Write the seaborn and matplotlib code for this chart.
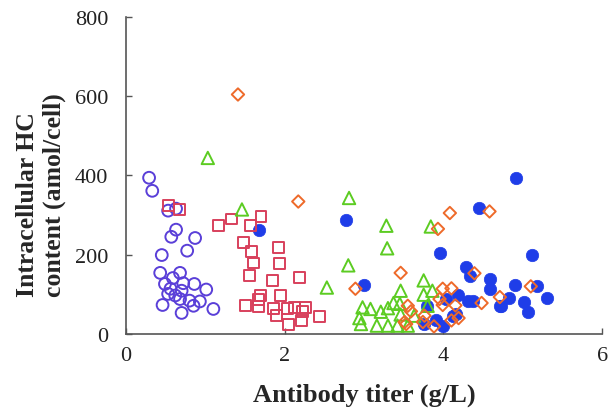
import matplotlib
matplotlib.use("Agg")
import matplotlib.pyplot as plt
import seaborn as sns
import pandas as pd

# ---- data ----
purple_x = [0.29, 0.33, 0.53, 0.63, 0.63, 0.57, 0.87, 0.77, 0.45, 0.43, 0.59, 0.68, 0.72, 0.86,
            1.01, 0.56, 0.53, 0.70, 0.68, 0.80, 0.93, 0.85, 0.46, 0.70, 1.10, 0.62, 0.49]
purple_y = [394, 361, 311, 316, 263, 245, 242, 210, 199, 154, 141, 154, 128, 126,
            112, 114, 101, 109, 88, 84, 82, 71, 73, 53, 63, 97, 126]

red_x = [0.53, 0.67, 1.16, 1.33, 1.57, 1.70, 1.48, 1.58, 1.61, 1.55, 1.92, 1.93, 1.84, 2.19,
         1.95, 1.69, 1.67, 1.51, 1.67, 1.86, 1.90, 2.03, 2.12, 2.26, 2.22, 2.05, 2.21, 2.44]
red_y = [324, 315, 273, 290, 273, 297, 231, 208, 179, 147, 217, 177, 134, 143,
         97, 97, 88, 71, 69, 63, 46, 63, 67, 67, 56, 24, 34, 44]

green_x = [1.03, 1.46, 2.81, 2.80, 2.53, 3.28, 3.29, 3.84, 3.46, 3.75, 3.86, 3.75, 2.98, 3.08,
           3.21, 3.30, 3.37, 3.45, 3.46, 2.94, 2.96, 3.16, 3.30, 3.42, 3.55, 3.63, 3.80]
green_y = [444, 314, 343, 173, 117, 273, 216, 271, 109, 135, 109, 99, 67, 63,
           56, 65, 78, 76, 49, 40, 25, 21, 21, 21, 21, 46, 71]

orange_x = [1.41, 2.17, 2.89, 3.46, 3.93, 4.08, 3.55, 3.59, 3.51, 3.74, 3.76, 3.88, 3.99, 3.95,
            3.99, 4.58, 4.39, 4.10, 4.15, 4.48, 4.71, 4.10, 4.19, 5.10, 3.53]
orange_y = [604, 334, 114, 154, 265, 305, 71, 57, 30, 30, 46, 19, 114, 88,
            73, 309, 153, 115, 72, 78, 93, 34, 40, 120, 25]

blue_x = [1.68, 2.77, 3.00, 3.95, 3.79, 4.03, 3.76, 3.91, 3.99, 4.45, 4.28, 4.33, 4.58, 4.58,
          4.18, 4.31, 4.37, 4.71, 4.12, 4.16, 4.91, 5.11, 4.90, 5.18, 4.82, 4.73, 5.02, 5.07, 5.31]
blue_y = [262, 288, 124, 204, 71, 88, 25, 36, 19, 318, 168, 147, 139, 114,
          98, 84, 84, 71, 44, 50, 394, 199, 124, 120, 90, 71, 80, 56, 90]

x_ticks = [0, 2, 4, 6]
y_ticks = [0, 200, 400, 600, 800]

sns.set_theme(style="ticks")
plt.rcParams['font.family'] = ['Liberation Serif', 'DejaVu Serif']

fig = plt.figure(figsize=(6.12, 4.14), dpi=100)
ax = fig.add_axes([0.206, 0.191, 0.778, 0.766])

lw = 1.4
sns.scatterplot(x=blue_x, y=blue_y, marker='o', s=80, color='#1f3de8',
                edgecolor='#1f3de8', linewidth=0.5, ax=ax, zorder=2)
sns.scatterplot(x=purple_x, y=purple_y, marker='o', s=72, facecolors='none',
                edgecolor='#5a3fd8', linewidth=lw, ax=ax, zorder=3)
sns.scatterplot(x=red_x, y=red_y, marker='s', s=62, facecolors='none',
                edgecolor='#d8405c', linewidth=lw, ax=ax, zorder=3)
sns.scatterplot(x=green_x, y=green_y, marker='^', s=80, facecolors='none',
                edgecolor='#5ccc22', linewidth=lw, ax=ax, zorder=4)
sns.scatterplot(x=orange_x, y=orange_y, marker='D', s=40, facecolors='none',
                edgecolor='#ee6a2a', linewidth=lw, ax=ax, zorder=5)

ax.set_xlim(0, 6)
ax.set_ylim(0, 800)
ax.set_xticks(x_ticks)
ax.set_yticks(y_ticks)
ax.tick_params(direction='in', length=4, width=1, colors='#555555',
               labelsize=16, labelcolor='#222222')
ax.tick_params(axis='y', pad=13)
ax.tick_params(axis='x', pad=9)
for side in ['top', 'right']:
    ax.spines[side].set_visible(False)
for side in ['left', 'bottom']:
    ax.spines[side].set_color('#555555')
    ax.spines[side].set_linewidth(1.2)

ax.set_xlabel('Antibody titer (g/L)', fontsize=19, fontweight='bold', labelpad=12)
ax.set_ylabel('')
fig.text(0.067, 0.283, 'Intracellular HC\ncontent (amol/cell)', rotation=90,
         fontsize=18.5, fontweight='bold', ha='center', va='bottom',
         multialignment='left', linespacing=1.15)

fig.savefig('out.png', dpi=100)
